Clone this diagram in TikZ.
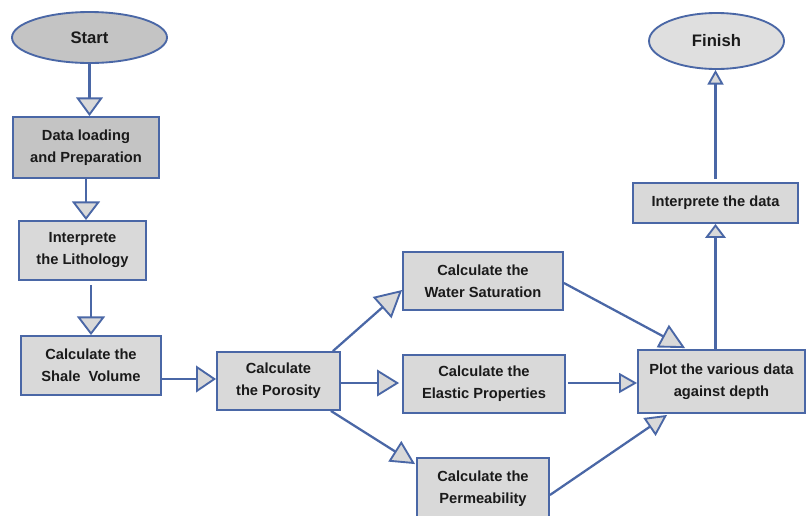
\documentclass[tikz,border=0pt]{standalone}
\usepackage{fontspec}
\setmainfont{Liberation Sans}
\usetikzlibrary{shapes.geometric,arrows.meta,calc}
\definecolor{edge}{HTML}{4A67A6}
\definecolor{boxfill}{HTML}{D9D9D9}
\definecolor{darkfill}{HTML}{C4C4C4}
\definecolor{txt}{HTML}{1A1A1A}
\tikzset{
  box/.style={draw=edge, line width=1.4pt, fill=boxfill, rectangle, align=center, inner sep=0pt,
    text=txt, font=\bfseries\fontsize{11}{16.5}\selectfont},
  oval/.style={box, ellipse, font=\bfseries\fontsize{12.5}{15}\selectfont},
  conn/.style={draw=edge, line width=1.7pt},
}
\newcommand{\tip}[2]{-{Triangle[length=#1pt,width=#2pt,fill=boxfill,line width=1.4pt]}}
\begin{document}
\begin{tikzpicture}[x=0.75pt,y=-0.75pt]
\useasboundingbox (0,0) rectangle (806,515);
\node[oval, fill=darkfill, minimum width=116.25pt, minimum height=38.25pt] (start) at (89.5,37.5) {Start};
\node[box, fill=darkfill, minimum width=109.5pt, minimum height=45.75pt] (data) at (86,147.5) {Data loading\\and Preparation};
\node[box, minimum width=95.25pt, minimum height=44.25pt] (litho) at (82.5,250.5) {Interprete\\the Lithology};
\node[box, minimum width=105pt, minimum height=44.25pt] (shale) at (91,365.5) {Calculate the\\Shale\ \ Volume};
\node[box, minimum width=92.25pt, minimum height=43.5pt] (por) at (278.5,381) {Calculate\\the Porosity};
\node[box, minimum width=120pt, minimum height=43.5pt] (ws) at (483,281) {Calculate the\\Water Saturation};
\node[box, minimum width=121.5pt, minimum height=43.5pt] (ep) at (484,384) {Calculate the\\Elastic Properties};
\node[box, minimum width=99pt, minimum height=46.5pt] (perm) at (483,489) {Calculate the\\Permeability};
\node[box, minimum width=125.25pt, minimum height=47.25pt] (plot) at (721.5,381.5) {Plot the various data\\against depth};
\node[box, minimum width=123.75pt, minimum height=30pt] (interp) at (715.5,203) {Interprete the data};
\node[oval, fill=boxfill!85!white, minimum width=101.25pt, minimum height=42pt] (finish) at (716.5,41) {Finish};

\draw[conn, \tip{14}{20}] (start.south) -- (start.south |- data.north);
\draw[conn, \tip{14}{21}] (data.south) -- (data.south |- litho.north);
\draw[conn, \tip{14}{21}] ($(litho.south -| shale.north)+(0,4)$) -- (shale.north);
\draw[conn, \tip{15}{20}] (shale.east |- 0,379) -- (por.west |- 0,379);
\draw[conn, \tip{20}{21}] ($(por.north east)+(-8,0)$) -- ($(ws.west)+(0,9)$);
\draw[conn, \tip{16.5}{20}] (por.east |- 0,383) -- ($(ep.west |- 0,383)+(-3,0)$);
\draw[conn, \tip{18}{18}] ($(por.south east)+(-10,0)$) -- ($(perm.north west)+(-1,7)$);
\draw[conn, \tip{19}{19}] ($(ws.east)+(0,2)$) -- ($(plot.north west)+(48,-1)$);
\draw[conn, \tip{13.5}{15}] ($(ep.east |- 0,383)+(2,0)$) -- (plot.west |- 0,383);
\draw[conn, \tip{16}{16}] ($(perm.east)+(0,6)$) -- ($(plot.south west)+(30,1)$);
\draw[conn, \tip{10.5}{15.5}] (plot.north -| interp.south) -- (interp.south);
\draw[conn, \tip{11}{12}] ($(interp.north)+(0,-3)$) -- (interp.north |- finish.south);
\end{tikzpicture}
\end{document}
